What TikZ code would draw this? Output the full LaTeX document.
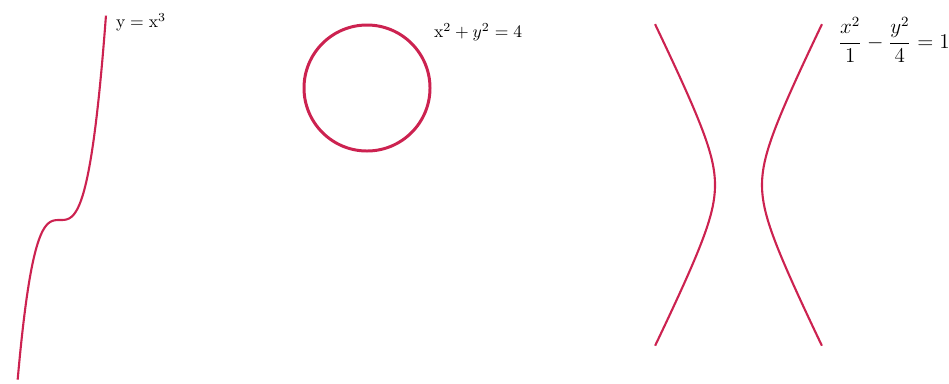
\documentclass[tikz,border=0pt]{standalone}
\definecolor{curvered}{RGB}{204,34,80}
\begin{document}
\begin{tikzpicture}[x=0.02cm,y=-0.02cm,every node/.style={font=\normalsize},
    curve/.style={curvered,line width=1.2pt}]
    \useasboundingbox (0,0) rectangle (949,383);
    % cubic
    \draw[curve,domain=-0.92:1,samples=80,smooth] plot ({60+46*\x},{220-205*\x*\x*\x});
    \node[right,inner sep=1pt] (cubiclbl) at (114,22) {$\mathrm{y}=\mathrm{x}^3$};
    % circle
    \draw[curve,line width=1.7pt] (367,88) circle[radius=63];
    \node[right,inner sep=1pt] (circlbl) at (432,32) {$\mathrm{x}^2+y^2=4$};
    % hyperbola
    \draw[curve,domain=-1.94:1.94,samples=80,smooth] plot ({738.5-23.5*cosh(\x)},{185+47.2*sinh(\x)});
    \draw[curve,domain=-1.94:1.94,samples=80,smooth] plot ({738.5+23.5*cosh(\x)},{185+47.2*sinh(\x)});
    \node[right,inner sep=1pt,font=\large] (hyplbl) at (836,40) {$\displaystyle\frac{x^2}{1}-\frac{y^2}{4}=1$};
\end{tikzpicture}
\end{document}
